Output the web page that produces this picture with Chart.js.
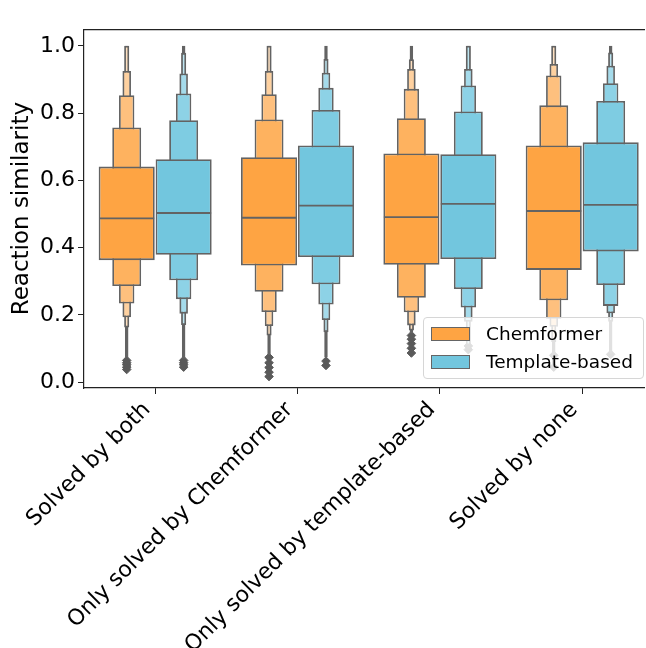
<!DOCTYPE html>
<html><head><meta charset="utf-8">
<script src="https://cdn.jsdelivr.net/npm/chart.js@4.4.1/dist/chart.umd.min.js"></script>
<style>
html,body{margin:0;padding:0;background:#fff;overflow:hidden;}
#wrap{position:relative;width:646px;height:648px;overflow:hidden;}
#c{position:absolute;left:0;top:0;}
#legend{position:absolute;left:423px;top:317px;width:221px;height:62px;box-sizing:border-box;border:1px solid #d6d6d6;border-radius:4px;background:rgba(255,255,255,0.8);font-family:'DejaVu Sans';font-size:18.5px;color:#000;}
.sw{position:absolute;left:7px;width:39px;height:14px;box-sizing:border-box;border:1.2px solid #656565;}
.lab{position:absolute;left:62px;line-height:20px;white-space:nowrap;}
</style></head>
<body><div id="wrap"><canvas id="c" width="674" height="648"></canvas><div id="legend"></div></div>
<script>
const categories = ['Solved by both', 'Only solved by Chemformer', 'Only solved by template-based', 'Solved by none'];
const seriesNames = ['Chemformer', 'Template-based'];
const xTicks = [0, 1, 2, 3];
const yTicks = [0, 0.2, 0.4, 0.6, 0.8, 1.0];

// Letter-value boxes [low, high] per category, level 1 = IQR
const chemL1 = [[0.363,0.641],[0.347,0.669],[0.349,0.680],[0.334,0.704]];
const chemL2 = [[0.286,0.757],[0.269,0.781],[0.251,0.785],[0.244,0.823]];
const chemL3 = [[0.234,0.853],[0.209,0.856],[0.208,0.872],[0.189,0.912]];
const chemL4 = [[0.193,0.925],[0.167,0.925],[0.169,0.931],[0.165,0.946]];
const chemL5 = [[0.163,1.000],[0.139,1.000],[0.154,0.960],[0.120,1.000]];
const chemL6 = [[0.075,1.000],[0.080,1.000],[0.145,1.000],[0.045,1.000]];
const chemMedian = [0.487, 0.489, 0.491, 0.509];
const chemOutliers = [[0.038,0.045,0.052,0.058,0.065],[0.017,0.030,0.044,0.058,0.074],[0.087,0.101,0.115,0.128,0.139],[0.045,0.080]];

const templL1 = [[0.379,0.663],[0.372,0.704],[0.366,0.678],[0.389,0.713]];
const templL2 = [[0.303,0.779],[0.291,0.809],[0.277,0.805],[0.289,0.836]];
const templL3 = [[0.247,0.858],[0.231,0.875],[0.222,0.882],[0.227,0.889]];
const templL4 = [[0.204,0.918],[0.185,0.920],[0.180,0.931],[0.205,0.941]];
const templL5 = [[0.170,0.979],[0.149,0.961],[0.110,1.000],[0.180,0.980]];
const templL6 = [[0.070,1.000],[0.075,1.000],[0.100,1.000],[0.085,1.000]];
const templMedian = [0.503, 0.525, 0.530, 0.527];
const templOutliers = [[0.045,0.052,0.058,0.065],[0.050,0.063],[0.097,0.108],[0.083]];

// styles
const hueOffsets = [-0.2, 0.2];
const edge = '#636363';
const chemColors = ['#FEA443','#FEB25F','#FEC07E','#FED1A0','#FEE0C0','#FEEEDD'];
const templColors = ['#72C6DE','#7ECCE2','#8DD2E6','#A5DBEB','#BDE5F1','#D5EEF6'];
const levelWidths = [0.985, 0.508, 0.27, 0.15, 0.09, 0.062];

const hues = [
  {levels:[chemL1,chemL2,chemL3,chemL4,chemL5,chemL6], median:chemMedian, outliers:chemOutliers, colors:chemColors},
  {levels:[templL1,templL2,templL3,templL4,templL5,templL6], median:templMedian, outliers:templOutliers, colors:templColors}
];

const datasets = [];
hues.forEach((h, hi) => {
  const off = hueOffsets[hi];
  h.levels.forEach((lv, k) => {
    datasets.push({
      type:'bar', label: seriesNames[hi] + ' L' + (k+1),
      data: categories.map((c, i) => ({x: i + off, y: lv[i]})),
      backgroundColor: h.colors[k], borderColor: edge, borderWidth: 1.8,
      borderSkipped: false, grouped: false, barPercentage: levelWidths[k],
      categoryPercentage: 1, order: k + 1
    });
  });
  datasets.push({
    type:'scatter', label: seriesNames[hi] + ' median',
    data: categories.map((c, i) => ({x: i + off, y: h.median[i]})),
    pointStyle:'line', pointRadius: 27.5, borderColor: edge, borderWidth: 1.8, order: 0
  });
  const pts = [];
  h.outliers.forEach((arr, i) => arr.forEach(v => pts.push({x: i + off, y: v})));
  datasets.push({
    type:'scatter', label: seriesNames[hi] + ' outliers', data: pts,
    pointStyle:'rectRot', pointRadius: 4.3, backgroundColor:'#5a5a5a', borderColor:'#5a5a5a', borderWidth: 1, order: 10
  });
});

const tickFont = {family:'DejaVu Sans', size:22};
const titleFont = {family:'DejaVu Sans', size:23};
new Chart(document.getElementById('c'), {
  type:'bar',
  data:{datasets},
  options:{
    responsive:false, animation:false, devicePixelRatio:1, events:[],
    layout:{padding:{left:0, top:15, right:0, bottom:0}},
    plugins:{legend:{display:false}, tooltip:{enabled:false}},
    scales:{
      x:{type:'linear', min:-0.5, max:3.439, offset:false,
        grid:{display:true, drawOnChartArea:false, drawTicks:true, tickLength:6, color:'#222', offset:false},
        border:{display:true, color:'#222', width:1.2},
        ticks:{autoSkip:false, minRotation:45, maxRotation:45, font:tickFont, color:'#000', padding:3, labelOffset:-8,
          callback:(v) => categories[v] !== undefined ? categories[v] : ''},
        afterBuildTicks:(s) => { s.ticks = xTicks.map(v => ({value:v})); },
        afterFit:(s) => { s.height = 260; s.paddingRight = 0; }
      },
      xTop:{type:'linear', position:'top', min:-0.5, max:3.439, display:true,
        grid:{display:false}, ticks:{display:false, callback:() => ''},
        border:{display:true, color:'#222', width:1.2},
        afterBuildTicks:(s) => { s.ticks = [{value:-0.5}]; },
        afterFit:(s) => { s.height = 0; s.paddingLeft = 0; s.paddingRight = 0; }
      },
      y:{type:'linear', min:-0.017, max:1.049,
        grid:{display:true, drawOnChartArea:false, drawTicks:true, tickLength:6, color:'#222'},
        border:{display:true, color:'#222', width:1.2},
        ticks:{font:tickFont, color:'#000', padding:3, callback:(v) => v.toFixed(1)},
        afterBuildTicks:(s) => { s.ticks = yTicks.map(v => ({value:v})); },
        title:{display:true, text:'Reaction similarity', font:titleFont, color:'#000', padding:{top:8, bottom:0}},
        afterFit:(s) => { s.width = 84; s.paddingTop = 0; s.paddingBottom = 0; }
      }
    }
  }
});

// legend
const lg = document.getElementById('legend');
const swColors = [chemColors[0], templColors[0]];
seriesNames.forEach((n, i) => {
  const sw = document.createElement('div');
  sw.className = 'sw'; sw.style.top = (9 + i * 28) + 'px'; sw.style.background = swColors[i];
  const lb = document.createElement('div');
  lb.className = 'lab'; lb.style.top = (6 + i * 28) + 'px'; lb.textContent = n;
  lg.appendChild(sw); lg.appendChild(lb);
});
</script>
</body></html>
